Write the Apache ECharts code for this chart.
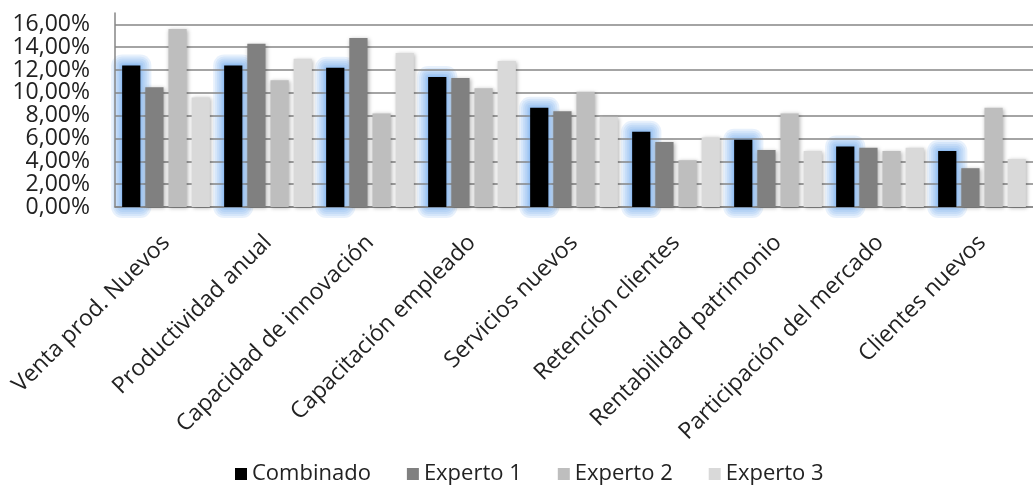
<!DOCTYPE html>
<html>
<head>
<meta charset="utf-8">
<script src="https://cdn.jsdelivr.net/npm/echarts@6/dist/echarts.min.js"></script>
<style>
  html, body { margin: 0; padding: 0; background: #fff; }
  #main { width: 1033px; height: 485px; }
</style>
</head>
<body>
<div id="main"></div>
<script>
// datos (en %)
var categorias = ['Venta prod. Nuevos', 'Productividad anual', 'Capacidad de innovación',
  'Capacitación empleado', 'Servicios nuevos', 'Retención clientes',
  'Rentabilidad patrimonio', 'Participación del mercado', 'Clientes nuevos'];
var nombres = ['Combinado', 'Experto 1', 'Experto 2', 'Experto 3'];
var combinado = [12.4, 12.4, 12.2, 11.4, 8.7, 6.6, 5.9, 5.3, 4.9];
var experto1 = [10.5, 14.3, 14.8, 11.3, 8.4, 5.7, 5.0, 5.2, 3.4];
var experto2 = [15.6, 11.1, 8.2, 10.4, 10.1, 4.1, 8.2, 4.9, 8.7];
var experto3 = [9.6, 13.0, 13.5, 12.8, 7.9, 6.1, 4.9, 5.2, 4.2];
var colores = ['#000000', '#808080', '#bebebe', '#d9d9d9'];

var fuente = 'Open Sans';
var GAP = 0.27, CAT_GAP = 0.14;
var myChart = echarts.init(document.getElementById('main'));

function serie(i, data) {
  var sombra = i === 0 ?
    { shadowBlur: 4, shadowColor: 'rgba(90,160,240,0.6)' } :
    { shadowBlur: 4, shadowColor: 'rgba(0,0,0,0.3)', shadowOffsetX: 1, shadowOffsetY: 1 };
  return {
    name: nombres[i],
    type: 'bar',
    data: data,
    barGap: (GAP * 100) + '%',
    barCategoryGap: (CAT_GAP * 100) + '%',
    itemStyle: Object.assign({ color: colores[i] }, sombra)
  };
}

// resplandor azul detras de las barras "Combinado" (capas semitransparentes)
var capas = [11, 9, 7, 5, 3, 1];
var brillo = {
  name: 'brillo',
  type: 'custom',
  z: -1,
  clip: false,
  silent: true,
  data: combinado.map(function (v, i) { return [i, v]; }),
  renderItem: function (params, api) {
    var band = api.size([1, 0])[0];
    var w = band * (1 - CAT_GAP) / (4 + 3 * GAP);
    var base = api.coord([api.value(0), 0]);
    var top = api.coord([api.value(0), api.value(1)]);
    var x = base[0] - band * (1 - CAT_GAP) / 2;
    return {
      type: 'group',
      children: capas.map(function (e) {
        return {
          type: 'rect',
          shape: { x: x - e, y: top[1] - e, width: w + 2 * e, height: base[1] - top[1] + 2 * e, r: e },
          style: { fill: 'rgba(130,180,240,0.18)' }
        };
      })
    };
  }
};

var option = {
  animation: false,
  textStyle: { fontFamily: fuente },
  legend: {
    data: nombres,
    left: 230,
    top: 458,
    itemWidth: 12,
    itemHeight: 12,
    itemGap: 36,
    icon: 'rect',
    textStyle: { fontFamily: fuente, fontSize: 22, color: '#222' }
  },
  grid: {
    left: 115,
    right: -13,
    top: 13,
    bottom: 278
  },
  xAxis: {
    type: 'category',
    data: categorias,
    axisTick: { show: false },
    axisLine: { lineStyle: { color: '#868686', width: 1.5 } },
    axisLabel: {
      rotate: 45,
      margin: 32,
      interval: 0,
      fontFamily: fuente,
      fontSize: 23,
      color: '#222'
    }
  },
  yAxis: {
    type: 'value',
    min: 0,
    max: 17,
    interval: 2,
    axisLine: { show: true, lineStyle: { color: '#868686', width: 1.5 } },
    axisTick: { show: false },
    splitLine: { showMaxLine: false, lineStyle: { color: '#868686', width: 1.5 } },
    axisLabel: {
      showMaxLabel: false,
      margin: 25,
      fontFamily: fuente,
      fontSize: 23,
      color: '#222',
      formatter: function (v) { return v.toFixed(2).replace('.', ',') + '%'; }
    }
  },
  series: [
    brillo,
    serie(0, combinado),
    serie(1, experto1),
    serie(2, experto2),
    serie(3, experto3)
  ]
};

myChart.setOption(option);
window.onresize = myChart.resize;
</script>
</body>
</html>
